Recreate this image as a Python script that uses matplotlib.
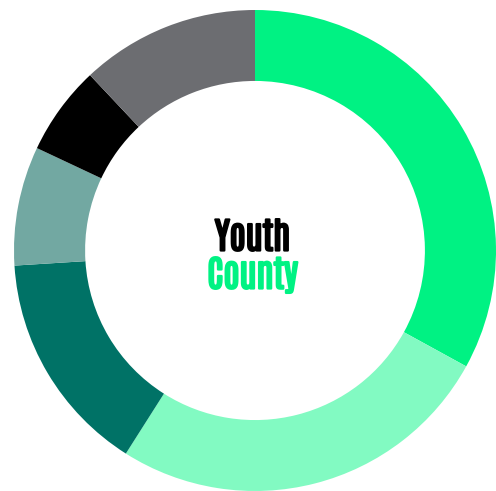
import matplotlib
matplotlib.use("Agg")
from matplotlib import pyplot as plt
from matplotlib import patheffects as pe

# segment shares (percent), clockwise from 12 o'clock
labels = ['A', 'B', 'C', 'D', 'E', 'F']
values = [33, 26, 15, 8, 6, 12]
colors = ['#00F283', '#82FAC2', '#007266', '#72A8A2', '#000000', '#6C6D71']

title_top = 'Youth'
title_bottom = 'County'

fig = plt.figure(figsize=(4.96, 4.91), dpi=100)
ax = fig.add_axes([14 / 496, 0.0, 482 / 496, 481 / 491])

ax.pie(values, colors=colors, startangle=90, counterclock=False,
       radius=1.0, wedgeprops=dict(width=0.295, linewidth=0))
ax.set_xlim(-1, 1)
ax.set_ylim(-1, 1)
ax.set_aspect('auto')
ax.axis('off')

# Antonio only ships in regular here, a stroke in the same colour thickens it
fnt = ['Antonio', 'Oswald', 'DejaVu Sans']
for txt, y, c in [(title_top, 0.0, '#000000'), (title_bottom, -0.158, '#00F283')]:
    ax.text(-0.01, y, txt, ha='center', va='baseline', fontsize=26,
            family=fnt, color=c,
            path_effects=[pe.withStroke(linewidth=1.6, foreground=c)])

plt.savefig('out.png', dpi=100)
